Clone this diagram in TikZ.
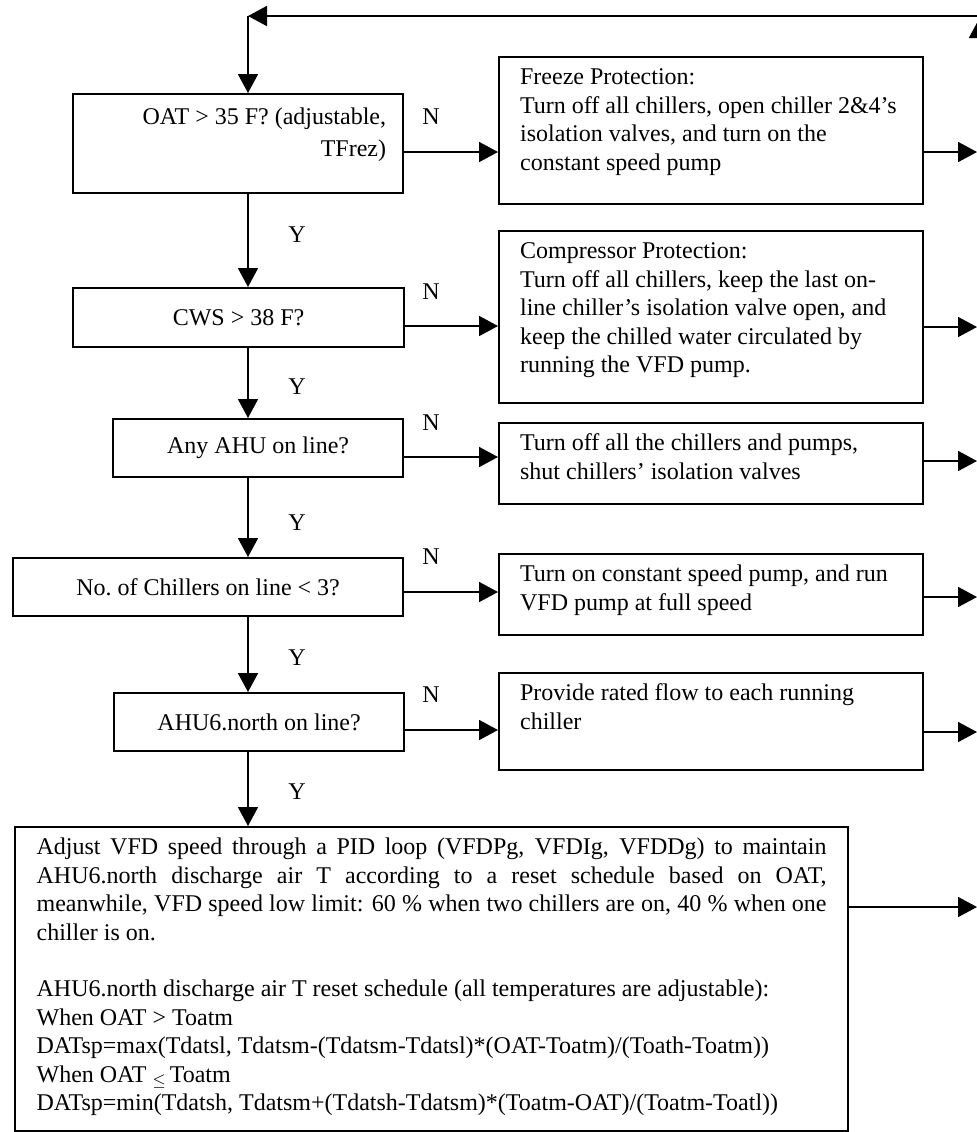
\documentclass[tikz,border=0pt]{standalone}
\usepackage{fontspec}
\setmainfont{Liberation Serif}
\usetikzlibrary{arrows.meta}

\tikzset{
  test/.style={draw, line width=1.1pt, anchor=north west, inner sep=0pt, align=center},
  action/.style={draw, line width=1.1pt, anchor=north west, inner xsep=10.5pt, inner ysep=4pt},
  arr/.style={line width=0.9pt, -{Triangle[length=9.5pt,width=10pt]}}
}

\begin{document}
\begin{tikzpicture}[x=0.5pt, y=-0.5pt, font=\fontsize{12}{14.2}\selectfont] %pixel grid, y runs down
\useasboundingbox (0,0) rectangle (977,1132);
\clip (0,0) rectangle (977,1132);

\coordinate (spine) at (248,0);
\coordinate (exit) at (977,0);
\coordinate (corner) at (248,16);
\coordinate (back) at (979,16);
\coordinate (rise) at (979,1132);

% tests down the left
\node[test, inner xsep=8.5pt, inner ysep=4pt] (oat) at (72,93) {\parbox[c][41.5pt][t]{148pt}{\fontsize{12}{16}\selectfont\raggedleft\strut OAT > 35 F? (adjustable,\\TFrez)}};
\node[test, minimum width=165.5pt, minimum height=29.5pt] (cws) at (72,287) {CWS > 38 F?};
\node[test, minimum width=145pt, minimum height=29pt] (any) at (112,418) {Any AHU on line?};
\node[test, minimum width=195pt, minimum height=29pt] (num) at (12,557) {No.\ of Chillers on line < 3?};
\node[test, minimum width=145pt, minimum height=29pt] (ahu) at (113,692) {AHU6.north on line?};

% actions on the right
\node[action] (frz) at (498,56) {\parbox[c][65.5pt][t]{191pt}{\strut Freeze Protection:\\Turn off all chillers, open chiller 2\&4's\\isolation valves, and turn on the\\constant speed pump}};
\node[action] (cmp) at (498,230) {\parbox[c][78pt][t]{191pt}{\strut Compressor Protection:\\Turn off all chillers, keep the last on-\\line chiller's isolation valve open, and\\keep the chilled water circulated by\\running the VFD pump.}};
\node[action] (off) at (498,422) {\parbox[c][32.5pt][t]{191pt}{\strut Turn off all the chillers and pumps,\\shut chillers' isolation valves}};
\node[action] (on) at (498,553) {\parbox[c][32.5pt][t]{191pt}{\strut Turn on constant speed pump, and run\\VFD pump at full speed}};
\node[action] (prv) at (498,672) {\parbox[c][40.5pt][t]{191pt}{\strut Provide rated flow to each running\\chiller}};

\node[action, inner xsep=10.75pt] (main) at (14,826) {\parbox[c][144pt][t]{395pt}{\strut
\makebox[\linewidth][s]{Adjust VFD speed through a PID loop (VFDPg, VFDIg, VFDDg) to maintain}\\
\makebox[\linewidth][s]{AHU6.north discharge air T according to a reset schedule based on OAT,}\\
\makebox[\linewidth][s]{meanwhile, VFD speed low limit: 60~\% when two chillers are on, 40~\% when one}\\
chiller is on.\\[\baselineskip]
AHU6.north discharge air T reset schedule (all temperatures are adjustable):\\
When OAT > Toatm\\
DATsp=max(Tdatsl, Tdatsm-(Tdatsm-Tdatsl)*(OAT-Toatm)/(Toath-Toatm))\\
When OAT \raisebox{-1.5pt}{\footnotesize$\leq$}\,Toatm\\
DATsp=min(Tdatsh, Tdatsm+(Tdatsh-Tdatsm)*(Toatm-OAT)/(Toatm-Toatl))}};

% Y / N marks
\node (n1) at (431,117) {N};
\node (n2) at (431,292) {N};
\node (n3) at (431,423) {N};
\node (n4) at (431,557) {N};
\node (n5) at (431,695) {N};
\node (y1) at (297,235) {Y};
\node (y2) at (297,387) {Y};
\node (y3) at (297,523) {Y};
\node (y4) at (297,658) {Y};
\node (y5) at (297,792) {Y};

% loop back to the top
\draw[arr] (rise) -- ([yshift=-1.5pt]back);
\draw[arr] (back) -- (corner);
\draw[arr] (corner) -- (oat.north -| corner);

% yes path
\draw[arr] (oat.south -| spine) -- (cws.north -| spine);
\draw[arr] (cws.south -| spine) -- (any.north -| spine);
\draw[arr] (any.south -| spine) -- (num.north -| spine);
\draw[arr] (num.south -| spine) -- (ahu.north -| spine);
\draw[arr] (ahu.south -| spine) -- (main.north -| spine);

% no path
\draw[arr] (oat.east |- 0,152) -- (frz.west |- 0,152);
\draw[arr] (cws.east |- 0,326) -- (cmp.west |- 0,326);
\draw[arr] (any.east |- 0,457) -- (off.west |- 0,457);
\draw[arr] (num.east |- 0,592) -- (on.west |- 0,592);
\draw[arr] (ahu.east |- 0,730) -- (prv.west |- 0,730);

% out to the right edge
\draw[arr] (frz.east |- 0,152) -- (exit |- 0,152);
\draw[arr] (cmp.east |- 0,327) -- (exit |- 0,327);
\draw[arr] (off.east |- 0,461) -- (exit |- 0,461);
\draw[arr] (on.east |- 0,597) -- (exit |- 0,597);
\draw[arr] (prv.east |- 0,732) -- (exit |- 0,732);
\draw[arr] (main.east |- 0,907) -- (exit |- 0,907);
\end{tikzpicture}
\end{document}
